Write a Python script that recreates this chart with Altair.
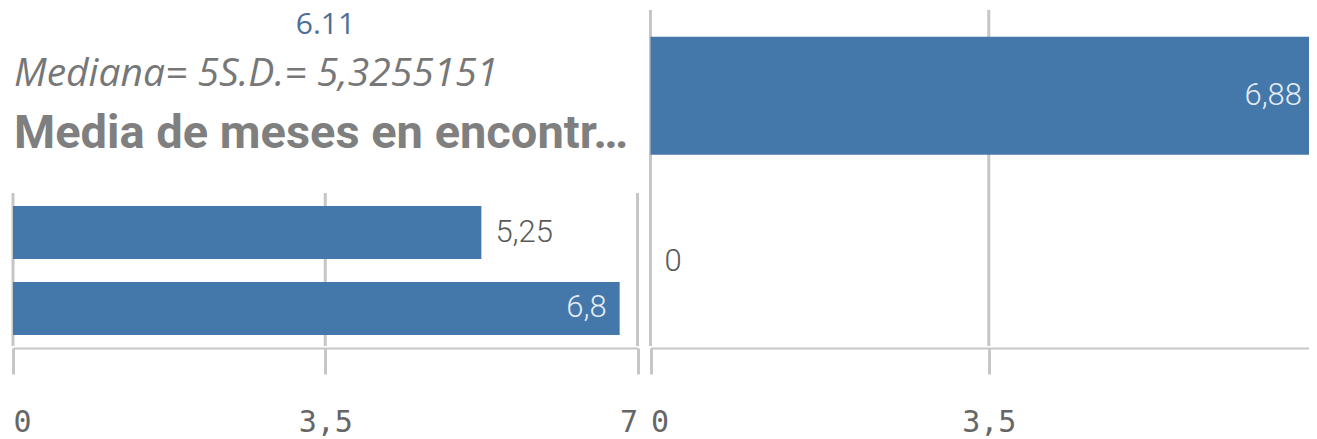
import altair as alt
import pandas as pd

# ---- data ----
left_cats = ["Grupo 1", "Grupo 2"]
left_vals = [5.25, 6.8]
right_cats = ["Grupo A", "Grupo B"]
right_vals = [6.88, 0]
left_ticks = [0, 3.5, 7]
right_ticks = [0, 3.5]
kpi_text = ["6.11"]
stats_text = ["Mediana= 5S.D.= 5,3255151"]
title_text = ["Media de meses en encontr…"]

BAR = "#4477aa"
GRID = "#c6c6c6"
LABEL_FONT = "Roboto"


def panel(cats, vals, ticks, x_domain, x_range, y_range, pad_inner, pad_outer,
          grid_y, width, height, inside_dx=-13, extra=()):
    df = pd.DataFrame({"cat": cats, "v": vals})
    xs = alt.Scale(domain=x_domain, range=x_range, nice=False, zero=True,
                   clamp=True)
    ax = alt.Axis(values=ticks, grid=False, domain=True, domainColor=GRID,
                  domainWidth=2, ticks=True, tickColor=GRID, tickWidth=3,
                  tickSize=26, labelFlush=True, labelFont="DejaVu Sans Mono",
                  labelFontSize=30, labelColor="#666666",
                  labelBaseline="alphabetic", labelPadding=57,
                  labelExpr="replace(toString(datum.value), '.', ',')",
                  title=None)
    ys = alt.Scale(domain=cats, range=y_range, paddingInner=pad_inner,
                   paddingOuter=pad_outer)
    X = alt.X("v:Q", scale=xs, axis=ax)
    Y = alt.Y("cat:N", scale=ys, axis=None)

    grid = alt.Chart(pd.DataFrame({"v": ticks})).mark_rule(
        color=GRID, strokeWidth=3).encode(
        x=X, y=alt.value(grid_y[0]), y2=alt.value(grid_y[1]))
    bars = alt.Chart(df).mark_bar(color=BAR).encode(x=X, y=Y)
    base = alt.Chart(df).transform_calculate(
        lab="replace(toString(datum.v), '.', ',')",
        inside="datum.v > 6")
    outside = base.transform_filter("!datum.inside").mark_text(
        align="left", baseline="middle", dx=14, font=LABEL_FONT,
        fontWeight=300, fontSize=31, color="#595959").encode(
        x=X, y=Y, text="lab:N")
    inside = base.transform_filter("datum.inside").mark_text(
        align="right", baseline="middle", dx=inside_dx, font=LABEL_FONT,
        fontWeight=300, fontSize=31, color="#e6ecf4").encode(
        x=X, y=Y, text="lab:N")
    return alt.layer(grid, bars, outside, inside, *extra).properties(
        width=width, height=height)


t_kpi = alt.Chart(pd.DataFrame({"t": kpi_text})).mark_text(
    align="center", baseline="alphabetic", font="Open Sans", fontSize=30,
    color="#4e6f97").encode(x=alt.value(317.5), y=alt.value(26), text="t:N")
t_stats = alt.Chart(pd.DataFrame({"t": stats_text})).mark_text(
    align="left", baseline="alphabetic", font="Open Sans", fontStyle="italic",
    fontSize=39, color="#777777").encode(x=alt.value(6), y=alt.value(78),
                                         text="t:N")
t_title = alt.Chart(pd.DataFrame({"t": title_text})).mark_text(
    align="left", baseline="alphabetic", font="Roboto", fontWeight="bold",
    fontSize=47, color="#7f7f7f").encode(x=alt.value(6), y=alt.value(140),
                                         text="t:N")

left = panel(left_cats, left_vals, left_ticks, [0, 7], [5, 629.5],
             [185, 340], 0.3, 0.17, (185, 338), 632, 340,
             extra=(t_kpi, t_stats, t_title))
# right panel: same pixel-per-unit as the reference; the frame cuts it at 6.81
right = panel(right_cats, right_vals, right_ticks, [0, 6.813], [10.5, 669],
              [2, 340], 0.29, 0.16, (2, 338), 669, 340, inside_dx=-7)

chart = alt.hconcat(left, right, spacing=0, bounds="flush").configure_view(
    stroke=None).properties(padding=0, background="white")

chart.save("out.html", embed_options={"renderer": "svg", "actions": False})
